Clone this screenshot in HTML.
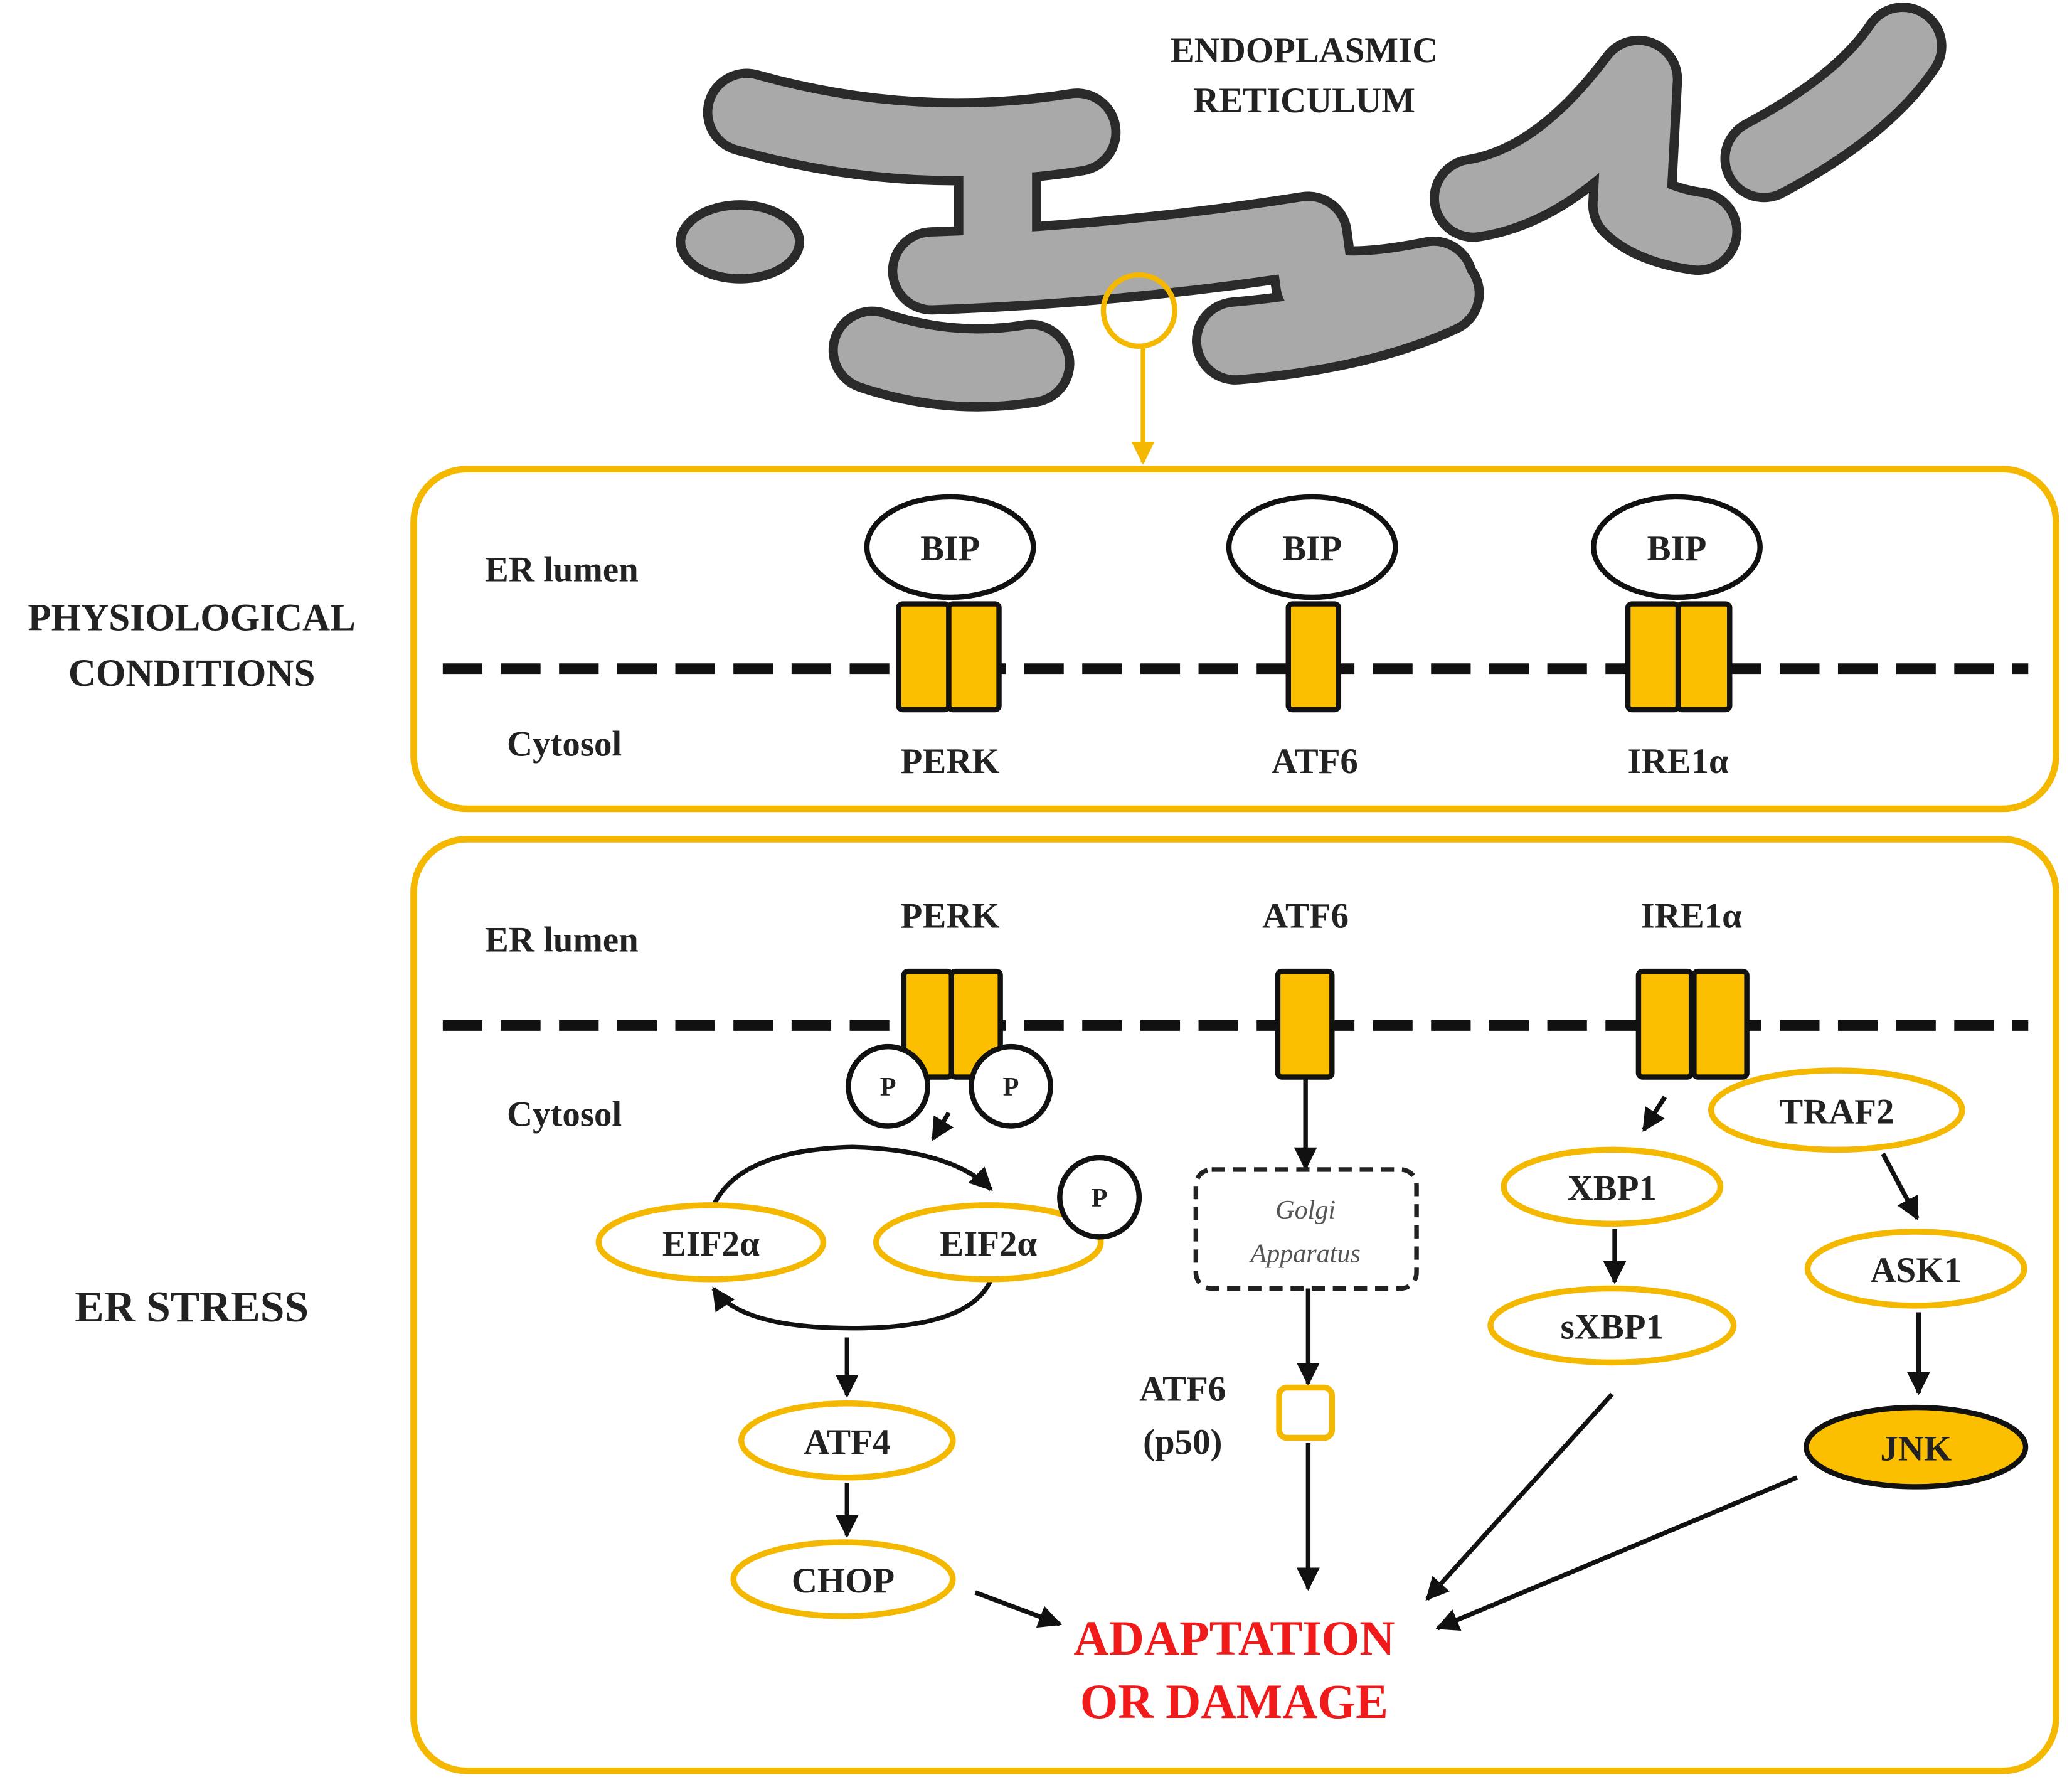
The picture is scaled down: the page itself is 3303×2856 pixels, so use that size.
<!DOCTYPE html>
<html><head><meta charset="utf-8"><style>
html,body{margin:0;padding:0;background:#fff}
svg{display:block}
text{font-family:"Liberation Serif",serif;font-weight:bold;fill:#222}
</style></head><body>
<svg width="3303" height="2856" viewBox="0 0 1568 1356" xmlns="http://www.w3.org/2000/svg">
<defs>
<marker id="ah" viewBox="0 0 10 10" refX="9" refY="5" markerWidth="5" markerHeight="5" orient="auto"><path d="M0,0 L10,5 L0,10 z" fill="#111"/></marker>
<marker id="ahy" viewBox="0 0 10 10" refX="9" refY="5" markerWidth="5" markerHeight="5" orient="auto"><path d="M0,0 L10,5 L0,10 z" fill="#f5b800"/></marker>
</defs>
<!-- ER tubes: dark outline then gray fill -->
<g fill="none" stroke-linecap="round" stroke-linejoin="round">
<g stroke="#2a2a2a" stroke-width="66">
<path d="M565,85 Q690,120 815,100"/>
<path d="M755,110 L755,185"/>
<path d="M705,205 Q850,200 990,178 L995,215 Q1020,225 1085,212"/>
<path d="M935,258 Q1030,250 1090,222"/>
<path d="M660,265 Q720,285 780,275"/>
<path d="M1115,150 Q1180,140 1240,60 L1235,155 Q1250,170 1285,175"/>
<path d="M1335,120 Q1410,80 1440,35"/>
</g>
<g stroke="#a9a9a9" stroke-width="52">
<path d="M565,85 Q690,120 815,100"/>
<path d="M755,110 L755,185"/>
<path d="M705,205 Q850,200 990,178 L995,215 Q1020,225 1085,212"/>
<path d="M935,258 Q1030,250 1090,222"/>
<path d="M660,265 Q720,285 780,275"/>
<path d="M1115,150 Q1180,140 1240,60 L1235,155 Q1250,170 1285,175"/>
<path d="M1335,120 Q1410,80 1440,35"/>
</g>
</g>
<ellipse cx="560" cy="183" rx="45" ry="28" fill="#a9a9a9" stroke="#2a2a2a" stroke-width="7"/>
<text x="987" y="47" font-size="27" text-anchor="middle">ENDOPLASMIC</text>
<text x="987" y="85" font-size="27" text-anchor="middle">RETICULUM</text>
<circle cx="862" cy="235" r="27" fill="none" stroke="#f5b800" stroke-width="4"/>
<line x1="865" y1="262" x2="865" y2="350" stroke="#f5b800" stroke-width="3.5" marker-end="url(#ahy)"/>

<!-- boxes -->
<rect x="313" y="355" width="1243" height="257" rx="40" fill="none" stroke="#f5b800" stroke-width="5"/>
<rect x="313" y="635" width="1243" height="705" rx="40" fill="none" stroke="#f5b800" stroke-width="5"/>

<text x="145" y="477" font-size="29" text-anchor="middle">PHYSIOLOGICAL</text>
<text x="145" y="519" font-size="29" text-anchor="middle">CONDITIONS</text>
<text x="145" y="1000" font-size="33" text-anchor="middle">ER STRESS</text>

<!-- box 1 -->
<text x="425" y="440" font-size="27" text-anchor="middle">ER lumen</text>
<text x="427" y="572" font-size="27" text-anchor="middle">Cytosol</text>
<line x1="335" y1="506" x2="1535" y2="506" stroke="#111" stroke-width="8" stroke-dasharray="30 14"/>
<g stroke="#111" stroke-width="4" fill="#fbbf00">
<rect x="680" y="457" width="38" height="80" rx="3"/><rect x="718" y="457" width="38" height="80" rx="3"/>
<rect x="975" y="457" width="38" height="80" rx="3"/>
<rect x="1232" y="457" width="38" height="80" rx="3"/><rect x="1270" y="457" width="39" height="80" rx="3"/>
</g>
<g fill="#fff" stroke="#111" stroke-width="4">
<ellipse cx="719" cy="414" rx="63" ry="38"/>
<ellipse cx="993" cy="414" rx="63" ry="38"/>
<ellipse cx="1269" cy="414" rx="63" ry="38"/>
</g>
<g font-size="27" text-anchor="middle">
<text x="719" y="424">BIP</text><text x="993" y="424">BIP</text><text x="1269" y="424">BIP</text>
<text x="719" y="585">PERK</text><text x="995" y="585">ATF6</text><text x="1270" y="585">IRE1α</text>
</g>

<!-- box 2 -->
<text x="425" y="720" font-size="27" text-anchor="middle">ER lumen</text>
<text x="427" y="852" font-size="27" text-anchor="middle">Cytosol</text>
<line x1="335" y1="776" x2="1535" y2="776" stroke="#111" stroke-width="8" stroke-dasharray="30 14"/>
<g font-size="27" text-anchor="middle">
<text x="719" y="702">PERK</text><text x="988" y="702">ATF6</text><text x="1280" y="702">IRE1α</text>
</g>
<g stroke="#111" stroke-width="4" fill="#fbbf00">
<rect x="684" y="735" width="36" height="80" rx="3"/><rect x="720" y="735" width="37" height="80" rx="3"/>
<rect x="967" y="735" width="41" height="80" rx="3"/>
<rect x="1240" y="735" width="40" height="80" rx="3"/><rect x="1282" y="735" width="40" height="80" rx="3"/>
</g>
<g fill="#fff" stroke="#111" stroke-width="4">
<circle cx="672" cy="822" r="30"/><circle cx="765" cy="822" r="30"/><circle cx="832" cy="906" r="30"/>
</g>
<g font-size="20" text-anchor="middle"><text x="672" y="829">P</text><text x="765" y="829">P</text><text x="832" y="913">P</text></g>

<g stroke="#111" stroke-width="3.5" fill="none">
<line x1="718" y1="842" x2="706" y2="862" marker-end="url(#ah)"/>
<path d="M540,912 Q560,870 645,868 Q720,870 750,900" marker-end="url(#ah)"/>
<path d="M750,968 Q735,1005 645,1005 Q560,1005 540,975" marker-end="url(#ah)"/>
<line x1="641" y1="1012" x2="641" y2="1056" marker-end="url(#ah)"/>
<line x1="641" y1="1122" x2="641" y2="1162" marker-end="url(#ah)"/>
<line x1="738" y1="1205" x2="802" y2="1229" marker-end="url(#ah)"/>
<line x1="988" y1="815" x2="988" y2="884" marker-end="url(#ah)"/>
<line x1="990" y1="975" x2="990" y2="1047" marker-end="url(#ah)"/>
<line x1="990" y1="1092" x2="990" y2="1202" marker-end="url(#ah)"/>
<line x1="1260" y1="830" x2="1244" y2="855" marker-end="url(#ah)"/>
<line x1="1222" y1="930" x2="1222" y2="970" marker-end="url(#ah)"/>
<line x1="1220" y1="1055" x2="1080" y2="1210" marker-end="url(#ah)"/>
<line x1="1425" y1="873" x2="1451" y2="922" marker-end="url(#ah)"/>
<line x1="1452" y1="993" x2="1452" y2="1054" marker-end="url(#ah)"/>
<line x1="1360" y1="1118" x2="1088" y2="1232" marker-end="url(#ah)"/>
</g>

<g fill="#fff" stroke="#f5b800" stroke-width="4.5">
<ellipse cx="538" cy="940" rx="85" ry="28"/>
<ellipse cx="748" cy="940" rx="85" ry="28"/>
<ellipse cx="641" cy="1090" rx="80" ry="28"/>
<ellipse cx="638" cy="1195" rx="83" ry="28"/>
<ellipse cx="1220" cy="898" rx="82" ry="28"/>
<ellipse cx="1220" cy="1003" rx="92" ry="28"/>
<ellipse cx="1390" cy="840" rx="95" ry="30"/>
<ellipse cx="1450" cy="960" rx="82" ry="28"/>
<rect x="968" y="1050" width="40" height="38" rx="6"/>
</g>
<circle cx="832" cy="906" r="30" fill="#fff" stroke="#111" stroke-width="4"/>
<text x="832" y="913" font-size="20" text-anchor="middle">P</text>
<ellipse cx="1450" cy="1095" rx="83" ry="30" fill="#fbbf00" stroke="#111" stroke-width="4"/>
<rect x="905" y="885" width="167" height="90" rx="12" fill="#fff" stroke="#222" stroke-width="3.5" stroke-dasharray="10 6"/>
<text x="988" y="922" font-size="20" text-anchor="middle" style="font-style:italic;font-weight:normal;fill:#555">Golgi</text>
<text x="988" y="955" font-size="20" text-anchor="middle" style="font-style:italic;font-weight:normal;fill:#555">Apparatus</text>

<g font-size="27" text-anchor="middle">
<text x="538" y="950">EIF2α</text>
<text x="748" y="950">EIF2α</text>
<text x="641" y="1100">ATF4</text>
<text x="638" y="1205">CHOP</text>
<text x="1220" y="908">XBP1</text>
<text x="1220" y="1013">sXBP1</text>
<text x="1390" y="850">TRAF2</text>
<text x="1450" y="970">ASK1</text>
<text x="1450" y="1105">JNK</text>
<text x="895" y="1060">ATF6</text>
<text x="895" y="1100">(p50)</text>
</g>
<text x="934" y="1252" font-size="37" text-anchor="middle" style="fill:#f01a1a">ADAPTATION</text>
<text x="934" y="1300" font-size="37" text-anchor="middle" style="fill:#f01a1a">OR DAMAGE</text>
</svg>
</body></html>
